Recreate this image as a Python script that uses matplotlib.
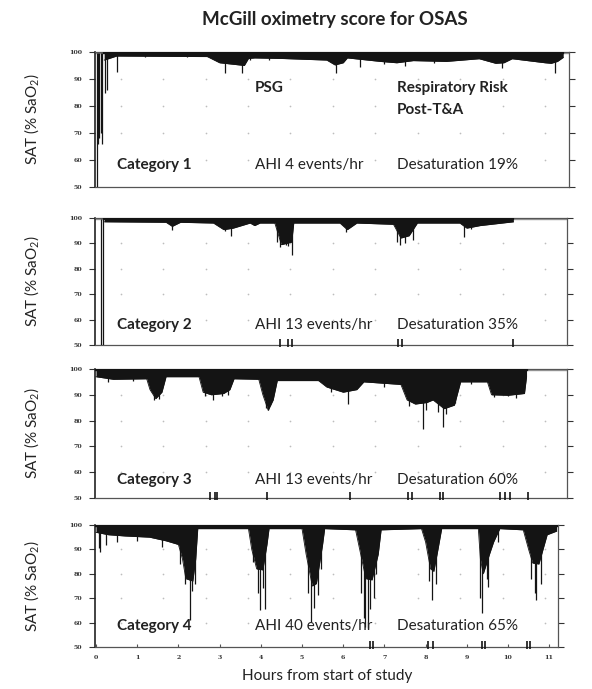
import numpy as np
import matplotlib
matplotlib.use("Agg")
import matplotlib.pyplot as plt

plt.rcParams['font.family'] = ['Lato', 'DejaVu Sans']
plt.rcParams['mathtext.fontset'] = 'custom'
plt.rcParams['mathtext.rm'] = 'Lato'
plt.rcParams['mathtext.it'] = 'Lato:italic'

# ---------------- data ----------------
title = "McGill oximetry score for OSAS"
categories = ["Category 1", "Category 2", "Category 3", "Category 4"]
ahi_labels = ["AHI 4 events/hr", "AHI 13 events/hr", "AHI 13 events/hr", "AHI 40 events/hr"]
desat_labels = ["Desaturation 19%", "Desaturation 35%", "Desaturation 60%", "Desaturation 65%"]
y_ticks = [50, 60, 70, 80, 90, 100]
x_ticks = list(range(0, 12))

# lower envelope of the dense saturation trace (hours, %SaO2) and single dips
p1_t = [0.2, 0.5, 2.7, 3.0, 3.3, 3.6, 3.7, 3.85, 4.5, 5.6, 5.8, 6.0, 6.1, 6.9, 7.3, 7.7, 8.5, 9.3, 9.7, 9.9, 10.1, 10.9, 11.05, 11.2, 11.34]
p1_lo = [97.0, 98.5, 98.3, 96.0, 95.5, 95.0, 97.6, 97.8, 97.6, 97.0, 95.2, 96.0, 97.8, 96.5, 96.0, 96.8, 96.5, 97.5, 95.8, 96.0, 97.5, 96.0, 95.8, 96.5, 98.0]
p1_spk_t = [0.02, 0.05, 0.08, 0.11, 0.14, 0.22, 0.27, 0.5, 3.13, 3.55, 3.75, 5.83, 6.41, 7.0, 7.5, 9.85, 11.14, 1.2, 2.2, 4.2, 8.2]
p1_spk_v = [50.0, 66.0, 68.0, 70.0, 66.0, 84.7, 86.0, 92.7, 92.1, 92.1, 97.0, 92.1, 94.6, 95.5, 95.0, 94.0, 92.1, 98.0, 98.0, 97.0, 96.0]
p1_end = 11.34

p2_t = [0.2, 1.7, 1.85, 2.05, 2.85, 3.1, 3.33, 3.74, 3.85, 3.98, 4.34, 4.5, 4.75, 4.8, 5.92, 6.1, 6.33, 7.22, 7.4, 7.6, 7.8, 8.83, 9.0, 9.32, 10.13]
p2_lo = [98.5, 98.3, 96.7, 98.3, 98.0, 95.4, 96.0, 98.0, 97.0, 98.0, 98.0, 89.5, 90.5, 98.0, 98.0, 95.4, 98.0, 97.5, 92.1, 93.0, 98.0, 98.0, 96.0, 97.0, 98.5]
p2_spk_t = [0.11, 0.18, 1.84, 3.13, 3.27, 4.40, 4.47, 4.6, 4.67, 4.75, 6.08, 7.30, 7.38, 7.5, 7.70, 8.93, 9.1]
p2_spk_v = [50.0, 50.0, 95.4, 94.7, 92.8, 90.5, 88.4, 89.5, 89.0, 85.5, 94.5, 90.5, 89.5, 90.0, 91.4, 92.4, 95.5]
p2_end = 10.13
p2_events = [4.47, 4.67, 4.75, 7.34, 7.42, 10.13]

p3_t = [0.0, 0.42, 1.23, 1.31, 1.45, 1.6, 1.7, 2.5, 2.6, 2.8, 3.1, 3.25, 3.35, 3.95, 4.05, 4.18, 4.3, 4.4, 5.4, 5.6, 6.0, 6.33, 6.5, 7.4, 7.55, 7.75, 8.03, 8.18, 8.45, 8.7, 8.85, 9.5, 9.6, 10.0, 10.4, 10.45]
p3_lo = [97.0, 96.0, 96.2, 92.0, 88.5, 91.0, 97.0, 97.0, 91.0, 90.0, 90.5, 92.0, 96.2, 96.0, 90.0, 84.0, 88.0, 95.5, 95.5, 93.0, 91.0, 92.0, 95.0, 94.0, 88.0, 86.4, 87.0, 88.0, 84.6, 86.0, 95.0, 95.0, 90.0, 89.8, 90.5, 97.0]
p3_spk_t = [0.3, 0.9, 1.4, 1.52, 2.65, 2.85, 3.05, 3.2, 4.12, 4.18, 4.22, 5.7, 6.12, 7.0, 7.6, 7.94, 8.0, 8.3, 8.42, 8.5, 8.71, 9.1, 9.65, 10.0, 10.2]
p3_spk_v = [95.0, 95.5, 88.0, 88.5, 89.5, 88.1, 89.5, 90.0, 85.0, 84.0, 86.0, 91.0, 86.4, 93.0, 85.5, 76.7, 84.0, 83.5, 77.4, 82.5, 86.8, 94.0, 89.0, 89.5, 88.6]
p3_end = 10.45
p3_events = [2.77, 2.89, 2.93, 4.14, 6.17, 7.58, 7.66, 8.35, 8.43, 9.81, 9.93, 10.05, 10.49]

p4_t = [0.0, 0.3, 0.7, 1.3, 1.7, 2.0, 2.1, 2.18, 2.35, 2.42, 2.47, 3.7, 3.78, 3.9, 4.05, 4.15, 4.2, 5.0, 5.1, 5.25, 5.35, 5.5, 5.55, 6.3, 6.4, 6.55, 6.7, 6.85, 6.92, 7.9, 8.0, 8.12, 8.2, 8.3, 8.39, 9.28, 9.33, 9.4, 9.55, 9.65, 9.8, 10.37, 10.5, 10.6, 10.75, 10.85, 10.95, 11.18]
p4_lo = [97.0, 96.0, 95.5, 95.0, 93.5, 92.0, 86.0, 78.0, 77.0, 86.0, 98.5, 98.5, 90.0, 82.0, 81.6, 92.0, 98.5, 98.5, 88.0, 75.0, 76.0, 92.0, 98.5, 98.0, 90.0, 78.0, 77.5, 88.0, 98.0, 98.5, 93.0, 82.0, 81.0, 90.0, 98.5, 98.5, 86.0, 80.0, 88.0, 93.0, 98.5, 98.0, 90.0, 84.4, 84.0, 90.0, 96.0, 97.5]
p4_spk_t = [0.08, 0.1, 0.25, 0.5, 1.0, 1.6, 2.05, 2.15, 2.28, 2.33, 2.40, 3.8, 3.92, 3.98, 4.05, 4.10, 5.15, 5.23, 5.3, 5.40, 5.45, 6.42, 6.5, 6.53, 6.61, 6.66, 6.75, 6.8, 8.08, 8.15, 8.25, 9.32, 9.36, 9.5, 9.52, 9.76, 10.55, 10.66, 10.69, 10.8]
p4_spk_v = [90.5, 89.0, 92.0, 93.0, 93.5, 91.0, 84.0, 76.0, 61.0, 73.0, 76.0, 85.0, 72.0, 65.0, 74.0, 65.5, 72.0, 60.4, 66.0, 71.3, 82.0, 72.0, 62.0, 58.3, 57.7, 65.5, 70.0, 80.0, 77.0, 69.3, 76.0, 70.0, 64.0, 78.0, 74.6, 93.0, 78.0, 72.0, 69.3, 76.0]
p4_end = 11.18
p4_events = [6.65, 6.73, 8.07, 8.19, 9.36, 9.44, 10.45, 10.53]

panels = [
    (p1_t, p1_lo, p1_spk_t, p1_spk_v, p1_end, []),
    (p2_t, p2_lo, p2_spk_t, p2_spk_v, p2_end, p2_events),
    (p3_t, p3_lo, p3_spk_t, p3_spk_v, p3_end, p3_events),
    (p4_t, p4_lo, p4_spk_t, p4_spk_v, p4_end, p4_events),
]

# ---------------- layout ----------------
W, H = 592, 689
fig = plt.figure(figsize=(W / 100, H / 100), dpi=100)
fig.patch.set_facecolor("white")

boxes = [(52, 187, 569), (218, 345, 567), (369, 498, 567), (525, 647, 558)]  # top, bottom, right (px)
left_px = 95
x0_px, px_per_hr = 96.0, 41.2
cat_y = [0.165, 0.157, 0.14, 0.175]

ink = "#141414"
for i, ((top, bot, right_px), (t, lo, st, sv, tend, ev)) in enumerate(zip(boxes, panels)):
    ax = fig.add_axes([left_px / W, 1 - bot / H, (right_px - left_px) / W, (bot - top) / H])
    ax.set_xlim((left_px - x0_px) / px_per_hr, (right_px - x0_px) / px_per_hr)
    ax.set_ylim(50, 100)

    # faint dot grid
    gx = np.arange(0.6, 11.2, 1.03)
    for gy in [60, 70, 80, 90]:
        ax.scatter(gx, np.full_like(gx, gy), s=1.5, color="#bdbdbd", lw=0, zorder=1)

    # grey reference line at 100
    ax.axhline(99.7, color="#9a9a9a", lw=1.0, zorder=1)

    # dense trace band
    t_arr = np.array(t)
    lo_arr = np.array(lo)
    ax.fill_between(t_arr, lo_arr, 99.9, color=ink, lw=0, zorder=3)
    ax.plot(t_arr, lo_arr, color=ink, lw=0.6, zorder=3)
    ax.plot([t_arr[0], tend], [99.6, 99.6], color=ink, lw=1.6, zorder=3)
    # single dips
    ax.vlines(st, sv, 99.5, color=ink, lw=0.9, zorder=4)

    # event markers on the bottom axis
    if ev:
        ax.scatter(ev, [50.8] * len(ev), marker="|", s=28, color=ink, lw=1.2, zorder=5, clip_on=False)

    for sp in ax.spines.values():
        sp.set_color("#555555")
        sp.set_linewidth(0.9)
    ax.spines["left"].set_color("#222222")
    ax.spines["left"].set_linewidth(1.2)

    ax.set_yticks(y_ticks)
    ax.set_yticklabels([str(v) for v in y_ticks], fontsize=4.5, fontweight="bold",
                       family=["DejaVu Serif"], color="#333333")
    ax.tick_params(axis="y", which="both", left=True, right=True, direction="out",
                   length=4, width=0.8, pad=5, colors="#333333", labelcolor="#333333")
    ax.set_xticks(x_ticks)
    if i == 3:
        ax.set_xticklabels([str(v) for v in x_ticks], fontsize=4.5, fontweight="bold",
                           family=["DejaVu Serif"], color="#333333")
        ax.tick_params(axis="x", direction="in", length=2.5, width=0.8, pad=6, colors="#555555",
                       labelcolor="#333333")
    else:
        ax.set_xticklabels([])
        ax.tick_params(axis="x", length=0)

    # panel texts (positions in figure pixels)
    ty = 1 - (bot - cat_y[i] * (bot - top)) / H
    fig.text(116.7 / W, ty, categories[i], fontsize=11, fontweight="bold",
             color="#222222", va="center", ha="left", zorder=6)
    fig.text(255 / W, ty, ahi_labels[i], fontsize=11,
             color="#222222", va="center", ha="left", zorder=6)
    fig.text(396.7 / W, ty, desat_labels[i], fontsize=11,
             color="#222222", va="center", ha="left", zorder=6)
    if i == 0:
        fig.text(255 / W, 1 - 88 / H, "PSG", fontsize=11, fontweight="bold",
                 color="#222222", va="center", ha="left", zorder=6)
        fig.text(396.7 / W, 1 - 88 / H, "Respiratory Risk", fontsize=11, fontweight="bold",
                 color="#222222", va="center", ha="left", zorder=6)
        fig.text(396.7 / W, 1 - 110 / H, "Post-T&A", fontsize=11, fontweight="bold",
                 color="#222222", va="center", ha="left", zorder=6)

    # y label
    fig.text(32 / W, 1 - ((top + bot) / 2) / H, "SAT (% SaO$_2$)", rotation=90,
             fontsize=11, color="#222222", ha="center", va="center")

fig.text(335 / W, 1 - 20 / H, title, fontsize=13.5, fontweight="bold",
         color="#222222", ha="center", va="center")
fig.text(327 / W, 1 - 676 / H, "Hours from start of study", fontsize=11,
         color="#222222", ha="center", va="center")

fig.savefig("out.png", dpi=100, facecolor="white")
